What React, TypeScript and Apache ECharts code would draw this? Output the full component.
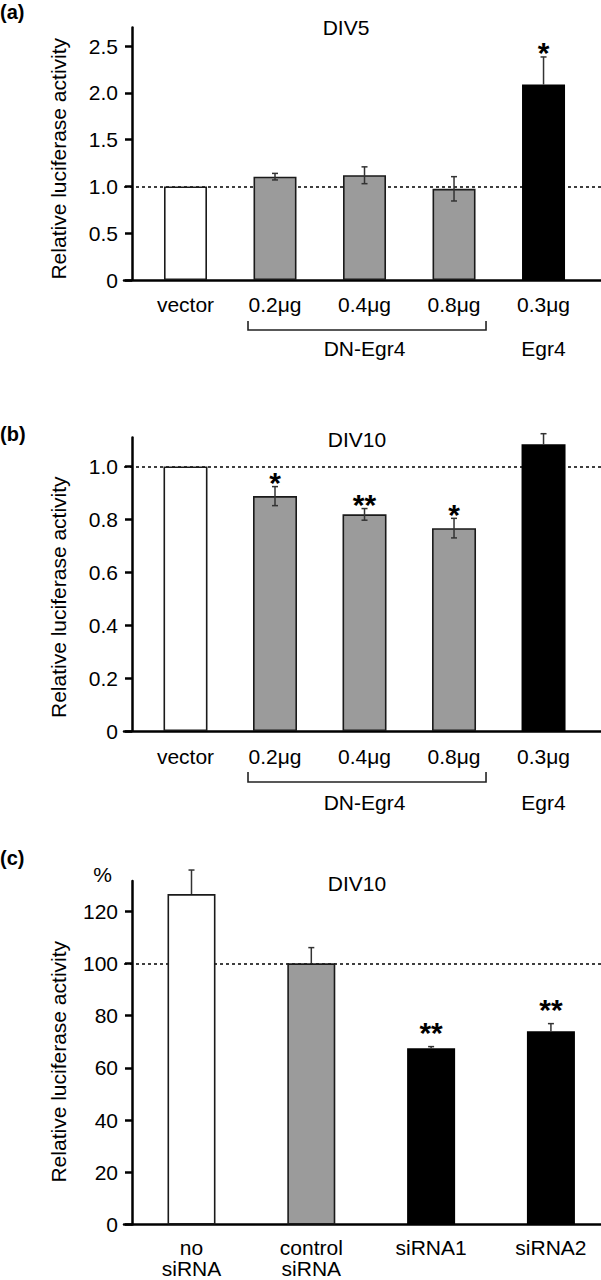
import React, { useEffect, useRef } from 'react';
import * as echarts from 'echarts';

const FONT = 'Liberation Sans';

// ---------- Panel (a) DIV5 ----------
const catsA = ['vector', '0.2μg', '0.4μg', '0.8μg', '0.3μg'];
const valsA = [1.0, 1.105, 1.12, 0.975, 2.09];
const errsA = [0, 0.035, 0.09, 0.13, 0.295];
const starsA = ['', '', '', '', '*'];
const fillA = ['white', 'gray', 'gray', 'gray', 'black'];
const ticksA = [0, 0.5, 1.0, 1.5, 2.0, 2.5];
const groupNamesA = ['DN-Egr4', 'Egr4'];
const groupSpansA = [[1, 3], [4, 4]];

// ---------- Panel (b) DIV10 ----------
const catsB = ['vector', '0.2μg', '0.4μg', '0.8μg', '0.3μg'];
const valsB = [1.0, 0.888, 0.819, 0.767, 1.084];
const errsB = [0, 0.036, 0.022, 0.037, 0.04];
const starsB = ['', '*', '**', '*', ''];
const fillB = ['white', 'gray', 'gray', 'gray', 'black'];
const ticksB = [0, 0.2, 0.4, 0.6, 0.8, 1.0];
const groupNamesB = ['DN-Egr4', 'Egr4'];
const groupSpansB = [[1, 3], [4, 4]];

// ---------- Panel (c) DIV10 siRNA ----------
const catsC = ['no\nsiRNA', 'control\nsiRNA', 'siRNA1', 'siRNA2'];
const valsC = [126.5, 100, 67.5, 74.0];
const errsC = [9.2, 6.0, 0.6, 2.9];
const starsC = ['', '', '**', '**'];
const fillC = ['white', 'gray', 'black', 'black'];
const ticksC = [0, 20, 40, 60, 80, 100, 120];

const refLines = [1.0, 1.0, 100];
const titles = ['DIV5', 'DIV10', 'DIV10'];
const panelLetters = ['(a)', '(b)', '(c)'];
const yName = 'Relative luciferase activity';

const COLORS: Record<string, string> = { white: '#ffffff', gray: '#9b9b9b', black: '#000000' };

interface PanelCfg {
  cats: string[];
  vals: number[];
  errs: number[];
  stars: string[];
  fill: string[];
  ticks: number[];
  groupNames: string[];
  groupSpans: number[][];
  ref: number;
  grid: { top: number; height: number };
  xMin: number;
  xMax: number;
  yMax: number;
  barWidth: number;
  showLow: boolean;
  starGap: number;
  labelMargin: number;
  bracketTop: number;
  bracketBottom: number;
  groupLabelY: number;
  namePad: number;
  fmt: (v: number) => string;
}

const fmt1 = (v: number) => (v === 0 ? '0' : v.toFixed(1));
const fmt0 = (v: number) => String(Math.round(v));

const panels: PanelCfg[] = [
  {
    cats: catsA, vals: valsA, errs: errsA, stars: starsA, fill: fillA, ticks: ticksA,
    groupNames: groupNamesA, groupSpans: groupSpansA, ref: refLines[0],
    grid: { top: 27.5, height: 252.5 }, xMin: -0.687, xMax: 4.642, yMax: 2.7,
    barWidth: 43, showLow: true, starGap: 10.5, labelMargin: 13.5,
    bracketTop: 41, bracketBottom: 50, groupLabelY: 68, namePad: 10, fmt: fmt1,
  },
  {
    cats: catsB, vals: valsB, errs: errsB, stars: starsB, fill: fillB, ticks: ticksB,
    groupNames: groupNamesB, groupSpans: groupSpansB, ref: refLines[1],
    grid: { top: 437.4, height: 293.6 }, xMin: -0.687, xMax: 4.642, yMax: 1.11,
    barWidth: 44, showLow: true, starGap: 10.5, labelMargin: 14.5,
    bracketTop: 41, bracketBottom: 51, groupLabelY: 71, namePad: 26, fmt: fmt1,
  },
  {
    cats: catsC, vals: valsC, errs: errsC, stars: starsC, fill: fillC, ticks: ticksC,
    groupNames: [], groupSpans: [], ref: refLines[2],
    grid: { top: 881, height: 343.5 }, xMin: -0.5634, xMax: 3.418, yMax: 131.5,
    barWidth: 48, showLow: false, starGap: 21, labelMargin: 12.5,
    bracketTop: 0, bracketBottom: 0, groupLabelY: 0, namePad: 18, fmt: fmt0,
  },
];

function buildOption() {
  const grid: any[] = [];
  const xAxis: any[] = [];
  const yAxis: any[] = [];
  const series: any[] = [];

  panels.forEach((p, k) => {
    grid.push({ left: 124, right: 0, top: p.grid.top, height: p.grid.height, containLabel: false });
    const idx = p.cats.map((_, i) => i);
    xAxis.push({
      gridIndex: k,
      type: 'value',
      min: p.xMin,
      max: p.xMax,
      axisLine: { show: true, onZero: false, lineStyle: { color: '#000', width: 2.5 } },
      axisTick: { show: false },
      splitLine: { show: false },
      axisLabel: {
        customValues: idx,
        formatter: (v: number) => p.cats[Math.round(v)] ?? '',
        color: '#000',
        fontSize: 21,
        fontFamily: FONT,
        margin: p.labelMargin,
        lineHeight: 21,
        align: 'center',
      },
    });
    yAxis.push({
      gridIndex: k,
      type: 'value',
      min: 0,
      max: p.yMax,
      offset: -8,
      axisLine: { show: true, onZero: false, lineStyle: { color: '#000', width: 2.5 } },
      axisTick: { show: true, customValues: p.ticks, length: 7, inside: false, lineStyle: { color: '#000', width: 2.5 } },
      splitLine: { show: false },
      axisLabel: {
        customValues: p.ticks,
        formatter: p.fmt,
        color: '#000',
        fontSize: 21,
        fontFamily: FONT,
        margin: 14,
      },
      name: yName,
      nameLocation: 'middle',
      nameGap: 63,
      nameTextStyle: { fontSize: 21, fontFamily: FONT, color: '#000', padding: [0, p.namePad, 0, 0] },
    });

    // reference dotted line (behind bars)
    series.push({
      type: 'line',
      xAxisIndex: k,
      yAxisIndex: k,
      data: [],
      z: 1,
      silent: true,
      markLine: {
        silent: true,
        z: 1,
        symbol: 'none',
        label: { show: false },
        lineStyle: { color: '#000', width: 1.6, type: [3, 3] },
        data: [{ yAxis: p.ref }],
      },
    });

    // bars
    series.push({
      type: 'bar',
      xAxisIndex: k,
      yAxisIndex: k,
      z: 2,
      barWidth: p.barWidth,
      data: p.vals.map((v, i) => ({
        value: [i, v],
        itemStyle: {
          color: COLORS[p.fill[i]],
          borderColor: p.fill[i] === 'black' ? '#000' : '#1a1a1a',
          borderWidth: 1.6,
        },
      })),
    });

    // error bars + stars
    series.push({
      type: 'custom',
      xAxisIndex: k,
      yAxisIndex: k,
      z: 3,
      clip: false,
      silent: true,
      data: p.vals.map((v, i) => [i, v, p.errs[i]]),
      renderItem: (params: any, api: any) => {
        const i = params.dataIndex;
        const x = api.value(0);
        const m = api.value(1);
        const e = api.value(2);
        const children: any[] = [];
        const top = api.coord([x, m + e]);
        const stroke = '#333';
        if (e > 0) {
          const low = p.showLow && p.fill[i] !== 'black';
          const bottom = api.coord([x, low ? m - e : m]);
          children.push({ type: 'line', shape: { x1: top[0], y1: top[1], x2: bottom[0], y2: bottom[1] }, style: { stroke, lineWidth: 1.5 } });
          children.push({ type: 'line', shape: { x1: top[0] - 3, y1: top[1], x2: top[0] + 3, y2: top[1] }, style: { stroke, lineWidth: 1.5 } });
          if (low) {
            children.push({ type: 'line', shape: { x1: bottom[0] - 3, y1: bottom[1], x2: bottom[0] + 3, y2: bottom[1] }, style: { stroke, lineWidth: 1.5 } });
          }
        }
        if (p.stars[i]) {
          children.push({
            type: 'text',
            style: {
              text: p.stars[i],
              x: top[0],
              y: top[1] - p.starGap + 6.4,
              font: `bold 30px "${FONT}"`,
              fill: '#000',
              textAlign: 'center',
              textVerticalAlign: 'middle',
              align: 'center',
              verticalAlign: 'middle',
            },
          });
        }
        return { type: 'group', children };
      },
    });

    // group brackets and labels
    if (p.groupNames.length) {
      series.push({
        type: 'custom',
        xAxisIndex: k,
        yAxisIndex: k,
        z: 3,
        clip: false,
        silent: true,
        data: p.groupSpans.map((s) => [s[0], s[1]]),
        renderItem: (params: any, api: any) => {
          const i = params.dataIndex;
          const s = api.value(0);
          const e = api.value(1);
          const left = api.coord([s, 0]);
          const right = api.coord([e, 0]);
          const mid = api.coord([(s + e) / 2, 0]);
          const y0 = left[1];
          const children: any[] = [];
          if (e > s) {
            const lx = left[0] - 27;
            const rx = right[0] + 32;
            children.push({
              type: 'polyline',
              shape: { points: [[lx, y0 + p.bracketTop], [lx, y0 + p.bracketBottom], [rx, y0 + p.bracketBottom], [rx, y0 + p.bracketTop]] },
              style: { stroke: '#222', lineWidth: 1.6, fill: 'none' },
            });
          }
          children.push({
            type: 'text',
            style: {
              text: p.groupNames[i],
              x: mid[0],
              y: y0 + p.groupLabelY,
              font: `21px "${FONT}"`,
              fill: '#000',
              textAlign: 'center',
              textVerticalAlign: 'middle',
              align: 'center',
              verticalAlign: 'middle',
            },
          });
          return { type: 'group', children };
        },
      });
    }
  });

  const txt = (text: string, x: number, y: number, font: string, align = 'center') => ({
    type: 'text',
    x,
    y,
    silent: true,
    style: {
      text,
      font,
      fill: '#000',
      textAlign: align,
      textVerticalAlign: 'middle',
      align,
      verticalAlign: 'middle',
    },
  });

  const graphic = [
    txt(titles[0], 346, 27, `21px "${FONT}"`),
    txt(titles[1], 357, 439, `21px "${FONT}"`),
    txt(titles[2], 357, 883, `21px "${FONT}"`),
    txt(panelLetters[0], 0, 12, `bold 20px "${FONT}"`, 'left'),
    txt(panelLetters[1], 0, 434, `bold 20px "${FONT}"`, 'left'),
    txt(panelLetters[2], 0, 858, `bold 20px "${FONT}"`, 'left'),
    txt('%', 102.5, 874, `21px "${FONT}"`),
  ];

  return {
    animation: false,
    backgroundColor: '#ffffff',
    textStyle: { fontFamily: FONT },
    grid,
    xAxis,
    yAxis,
    series,
    graphic,
  };
}

export default function App() {
  const ref = useRef<HTMLDivElement>(null);
  useEffect(() => {
    if (!ref.current) return;
    const chart = echarts.init(ref.current, undefined, { renderer: 'svg' });
    chart.setOption(buildOption() as any);
    return () => chart.dispose();
  }, []);
  return (
    <div
      ref={ref}
      style={{ position: 'absolute', left: 0, top: 0, width: 601, height: 1280, background: '#fff' }}
    />
  );
}
